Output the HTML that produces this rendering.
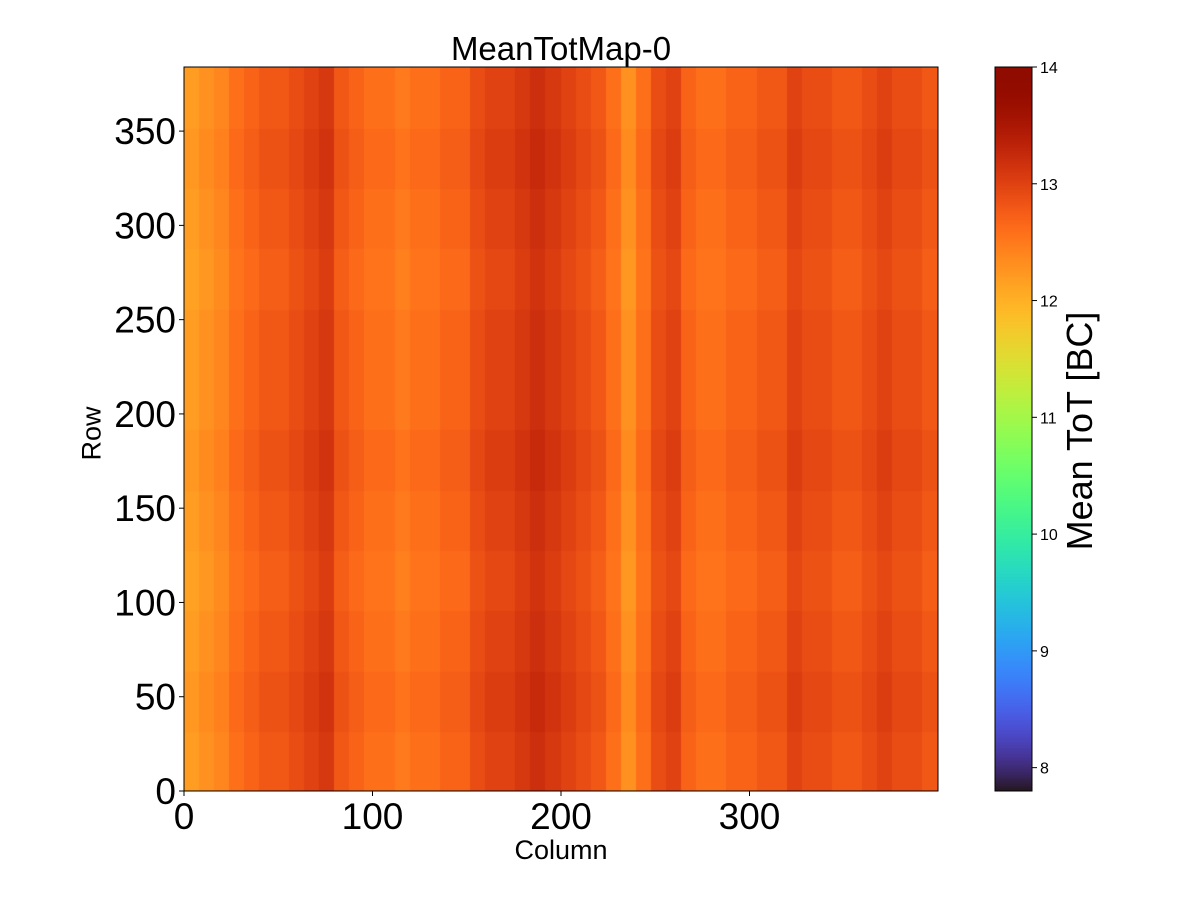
<!DOCTYPE html>
<html><head><meta charset="utf-8"><style>
body{margin:0;background:#fff;}
#wrap{position:relative;width:1200px;height:900px;font-family:"Liberation Sans",sans-serif;color:#000;}
.t{position:absolute;white-space:nowrap;}
</style></head><body>
<div id="wrap">
<div class="t" style="left:0;width:1122px;text-align:center;top:30px;font-size:33px;">MeanTotMap-0</div>
<canvas id="hm" width="754" height="724" style="position:absolute;left:184px;top:67px;"></canvas>
<canvas id="cb" width="37" height="724" style="position:absolute;left:995px;top:67px;"></canvas>
<svg id="ax" width="1200" height="900" style="position:absolute;left:0;top:0;"></svg>
<div class="t" style="left:461px;width:200px;text-align:center;top:835px;font-size:27px;">Column</div>
<div class="t" style="left:42px;top:418px;width:100px;text-align:center;font-size:27px;transform:rotate(-90deg);">Row</div>
<div class="t" style="left:930px;top:410px;width:300px;text-align:center;font-size:36px;transform:rotate(-90deg);">Mean ToT [BC]</div>
</div>
<script>
const colMeans=[12.2,12.3,12.4,12.6,12.7,12.8,12.8,12.9,13.0,13.1,12.8,12.7,12.6,12.6,12.5,12.6,12.6,12.7,12.7,12.9,13.0,13.0,13.1,13.2,13.1,13.0,12.9,12.8,12.6,12.3,12.6,12.9,13.0,12.7,12.6,12.6,12.7,12.7,12.8,12.8,13.0,12.9,12.9,12.8,12.8,12.9,13.0,12.9,12.9,12.8];
const rowAdj=[0.0,0.05,0.0,-0.05,0.0,0.05,0.0,0.0,-0.05,0.0,0.05,0.0];
const xTicks=[0,100,200,300];
const yTicks=[0,50,100,150,200,250,300,350];
const cbTicks=[8,9,10,11,12,13,14];
const nCols=400,nRows=384,vmin=7.8,vmax=14;
const X0=184,W=754,Y0=67,H=724;
function turbo(t){t=Math.max(0,Math.min(1,t));
const r=0.13572138+t*(4.61539260+t*(-42.66032258+t*(132.13108234+t*(-152.94239396+t*59.28637943))));
const g=0.09140261+t*(2.19418839+t*(4.84296658+t*(-14.18503333+t*(4.27729857+t*2.82956604))));
const b=0.10667330+t*(12.64194608+t*(-60.58204836+t*(110.36276771+t*(-89.90310912+t*27.34824973))));
const c=v=>Math.round(Math.max(0,Math.min(1,v))*255);return `rgb(${c(r)},${c(g)},${c(b)})`;}
const xs=c=>c*W/nCols, ys=r=>H-r*H/nRows;
const hm=document.getElementById('hm').getContext('2d');
const bw=nCols/colMeans.length, rh=nRows/rowAdj.length;
for(let i=0;i<colMeans.length;i++)for(let j=0;j<rowAdj.length;j++){
 hm.fillStyle=turbo((colMeans[i]+rowAdj[j]-vmin)/(vmax-vmin));
 const x1=xs(i*bw),x2=xs((i+1)*bw),y1=ys((j+1)*rh),y2=ys(j*rh);
 hm.fillRect(Math.floor(x1),Math.floor(y1),Math.ceil(x2-x1)+1,Math.ceil(y2-y1)+1);}
const cb=document.getElementById('cb').getContext('2d');
for(let p=0;p<H;p++){cb.fillStyle=turbo(1-p/H);cb.fillRect(0,p,37,1);}
const svg=document.getElementById('ax');const NS='http://www.w3.org/2000/svg';
function mk(tag,at,txt){const e=document.createElementNS(NS,tag);for(const k in at)e.setAttribute(k,at[k]);if(txt!==undefined)e.textContent=txt;svg.appendChild(e);return e;}
const fr=mk('rect',{x:X0,y:Y0,width:W,height:H,fill:'none',stroke:'#000','stroke-width':1});


const cf=mk('rect',{x:995,y:Y0,width:37,height:H,fill:'none',stroke:'#000','stroke-width':1});


xTicks.forEach(v=>{const x=X0+xs(v);
 mk('line',{x1:x,x2:x,y1:Y0+H,y2:Y0+H+5,stroke:'#000'});
 const t=mk('text',{x:x,y:Y0+H+38,'font-size':37,'text-anchor':'middle','font-family':'Liberation Sans'},v);
 
 });
yTicks.forEach(v=>{const y=Y0+ys(v);
 mk('line',{x1:X0-5,x2:X0,y1:y,y2:y,stroke:'#000'});
 const t=mk('text',{x:X0-8,y:y+13,'font-size':37,'text-anchor':'end','font-family':'Liberation Sans'},v);
 
 });
cbTicks.forEach(v=>{const y=Y0+H*(1-(v-vmin)/(vmax-vmin));
 mk('line',{x1:1032,x2:1037,y1:y,y2:y,stroke:'#000'});
 const t=mk('text',{x:1040,y:y+6,'font-size':16,'font-family':'Liberation Sans'},v);
 
 });
</script>
</body></html>
